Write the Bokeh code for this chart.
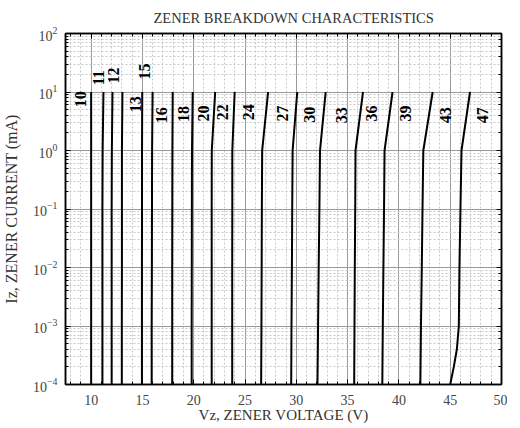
import numpy as np
from bokeh.plotting import figure
from bokeh.models import Range1d, FixedTicker, LinearAxis, LogAxis, LogTicker, ColumnDataSource
from bokeh.core.properties import value
from bokeh.embed import file_html
from bokeh.resources import INLINE

# ---- data ----
current_ma = [1e-4, 1e-3, 1e-2, 1e-1, 1e0, 1e1]
zener_labels = ["10", "11", "12", "13", "15", "16", "18", "20", "22", "24",
                "27", "30", "33", "36", "39", "43", "47"]
v10 = [10.0, 10.0, 10.0, 10.0, 10.0, 10.0]
v11 = [11.1, 11.1, 11.1, 11.1, 11.12, 11.2]
v12 = [12.0, 12.0, 12.0, 12.0, 12.02, 12.08]
v13 = [12.99, 12.99, 13.0, 13.0, 13.0, 13.05]
v15 = [14.95, 14.95, 14.95, 14.96, 14.96, 14.98]
v16 = [15.9, 15.9, 15.92, 15.93, 15.94, 15.99]
v18 = [17.9, 17.9, 17.9, 17.91, 17.92, 17.95]
v20 = [19.8, 19.8, 19.81, 19.82, 19.83, 19.9]
v22 = [21.75, 21.75, 21.75, 21.75, 21.76, 22.09]
v24 = [23.75, 23.75, 23.75, 23.76, 23.76, 23.99]
v27 = [26.57, 26.6, 26.62, 26.64, 26.67, 27.25]
v30 = [29.5, 29.53, 29.57, 29.6, 29.64, 30.09]
v33 = [32.06, 32.12, 32.18, 32.25, 32.31, 32.86]
v36 = [35.64, 35.67, 35.7, 35.74, 35.77, 36.5]
v39 = [38.38, 38.43, 38.49, 38.55, 38.6, 39.38]
v43 = [42.09, 42.15, 42.23, 42.3, 42.38, 43.29]
v47_current = [1e-4, 2e-4, 4e-4, 1e-3, 1e-2, 1e-1, 1e0, 1e1]
v47 = [45.0, 45.35, 45.65, 45.84, 45.9, 46.0, 46.1, 46.93]
label_v = [8.95, 10.74, 12.15, 14.28, 15.24, 16.89, 19.02, 21.0, 22.84, 25.36,
           28.65, 31.31, 34.36, 37.32, 40.61, 44.53, 48.16]
label_i = [7.5, 17.5, 19.2, 6.2, 22.5, 4.0, 4.2, 4.3, 4.5, 4.5,
           4.3, 4.1, 4.0, 4.3, 4.3, 4.0, 4.0]
x_major = [10, 15, 20, 25, 30, 35, 40, 45, 50]
x_minor = list(range(8, 51))

curves = [v10, v11, v12, v13, v15, v16, v18, v20, v22, v24, v27, v30, v33, v36, v39, v43]

SERIF = "Liberation Serif"

p = figure(width=507, height=426, output_backend="svg", toolbar_location=None,
           y_axis_type="log", x_range=Range1d(7.5, 50), y_range=Range1d(1e-4, 1e2),
           min_border_left=62, min_border_right=6, min_border_top=32, min_border_bottom=42,
           title="ZENER BREAKDOWN CHARACTERISTICS")

p.title.text_font = SERIF
p.title.text_font_size = "14.5px"
p.title.text_font_style = "normal"
p.title.text_color = "#333333"
p.title.align = "left"
p.title.offset = 88
p.title.standoff = 15

p.outline_line_color = "black"
p.outline_line_width = 1.5
p.background_fill_color = "white"
p.border_fill_color = "white"

# grids
p.xgrid.ticker = FixedTicker(ticks=x_major, minor_ticks=x_minor)
p.xgrid.grid_line_color = "#9a9a9a"
p.xgrid.grid_line_width = 1
p.xgrid.minor_grid_line_color = "#c8c8c8"
p.xgrid.minor_grid_line_dash = "2 2"
p.ygrid.grid_line_color = "#9a9a9a"
p.ygrid.grid_line_width = 1
p.ygrid.minor_grid_line_color = "#c8c8c8"
p.ygrid.minor_grid_line_dash = "2 2"

def style_axis(ax, show_labels=True):
    ax.major_tick_in = 5
    ax.major_tick_out = 0
    ax.minor_tick_in = 3
    ax.minor_tick_out = 0
    ax.major_tick_line_color = "black"
    ax.minor_tick_line_color = "black"
    ax.axis_line_color = "black"
    ax.axis_line_width = 1.5
    ax.major_label_text_font = SERIF
    ax.major_label_text_color = "#444444"
    ax.axis_label_text_font = SERIF
    ax.axis_label_text_font_style = "normal"
    ax.axis_label_text_color = "#333333"
    if show_labels:
        ax.major_label_text_font_size = "14px"
    else:
        ax.major_label_text_font_size = "1px"
        ax.major_label_text_alpha = 0
        ax.major_label_standoff = 0

xa = p.xaxis[0]
xa.ticker = FixedTicker(ticks=x_major, minor_ticks=x_minor)
style_axis(xa)
xa.axis_label = "Vz, ZENER VOLTAGE (V)"
xa.axis_label_text_font_size = "15px"
xa.major_label_standoff = 10
xa.axis_label_standoff = -1

ya = p.yaxis[0]
style_axis(ya)
ya.axis_label = "Iz, ZENER CURRENT (mA)"
ya.axis_label_text_font_size = "16px"
ya.major_label_standoff = 8
ya.axis_label_standoff = 10

top = LinearAxis(ticker=FixedTicker(ticks=x_major, minor_ticks=x_minor))
style_axis(top, show_labels=False)
p.add_layout(top, "above")

right = LogAxis(ticker=LogTicker())
style_axis(right, show_labels=False)
p.add_layout(right, "right")

for v in curves:
    p.line(v, current_ma, line_color="black", line_width=2)
p.line(v47, v47_current, line_color="black", line_width=2)

src = ColumnDataSource(dict(x=label_v, y=label_i, t=zener_labels))
p.text(x="x", y="y", text="t", source=src, angle=np.pi / 2,
       text_align="center", text_baseline="middle",
       text_font=value(SERIF), text_font_style="bold", text_font_size="16px",
       text_color="black")

open("out.html", "w").write(file_html(p, INLINE))
